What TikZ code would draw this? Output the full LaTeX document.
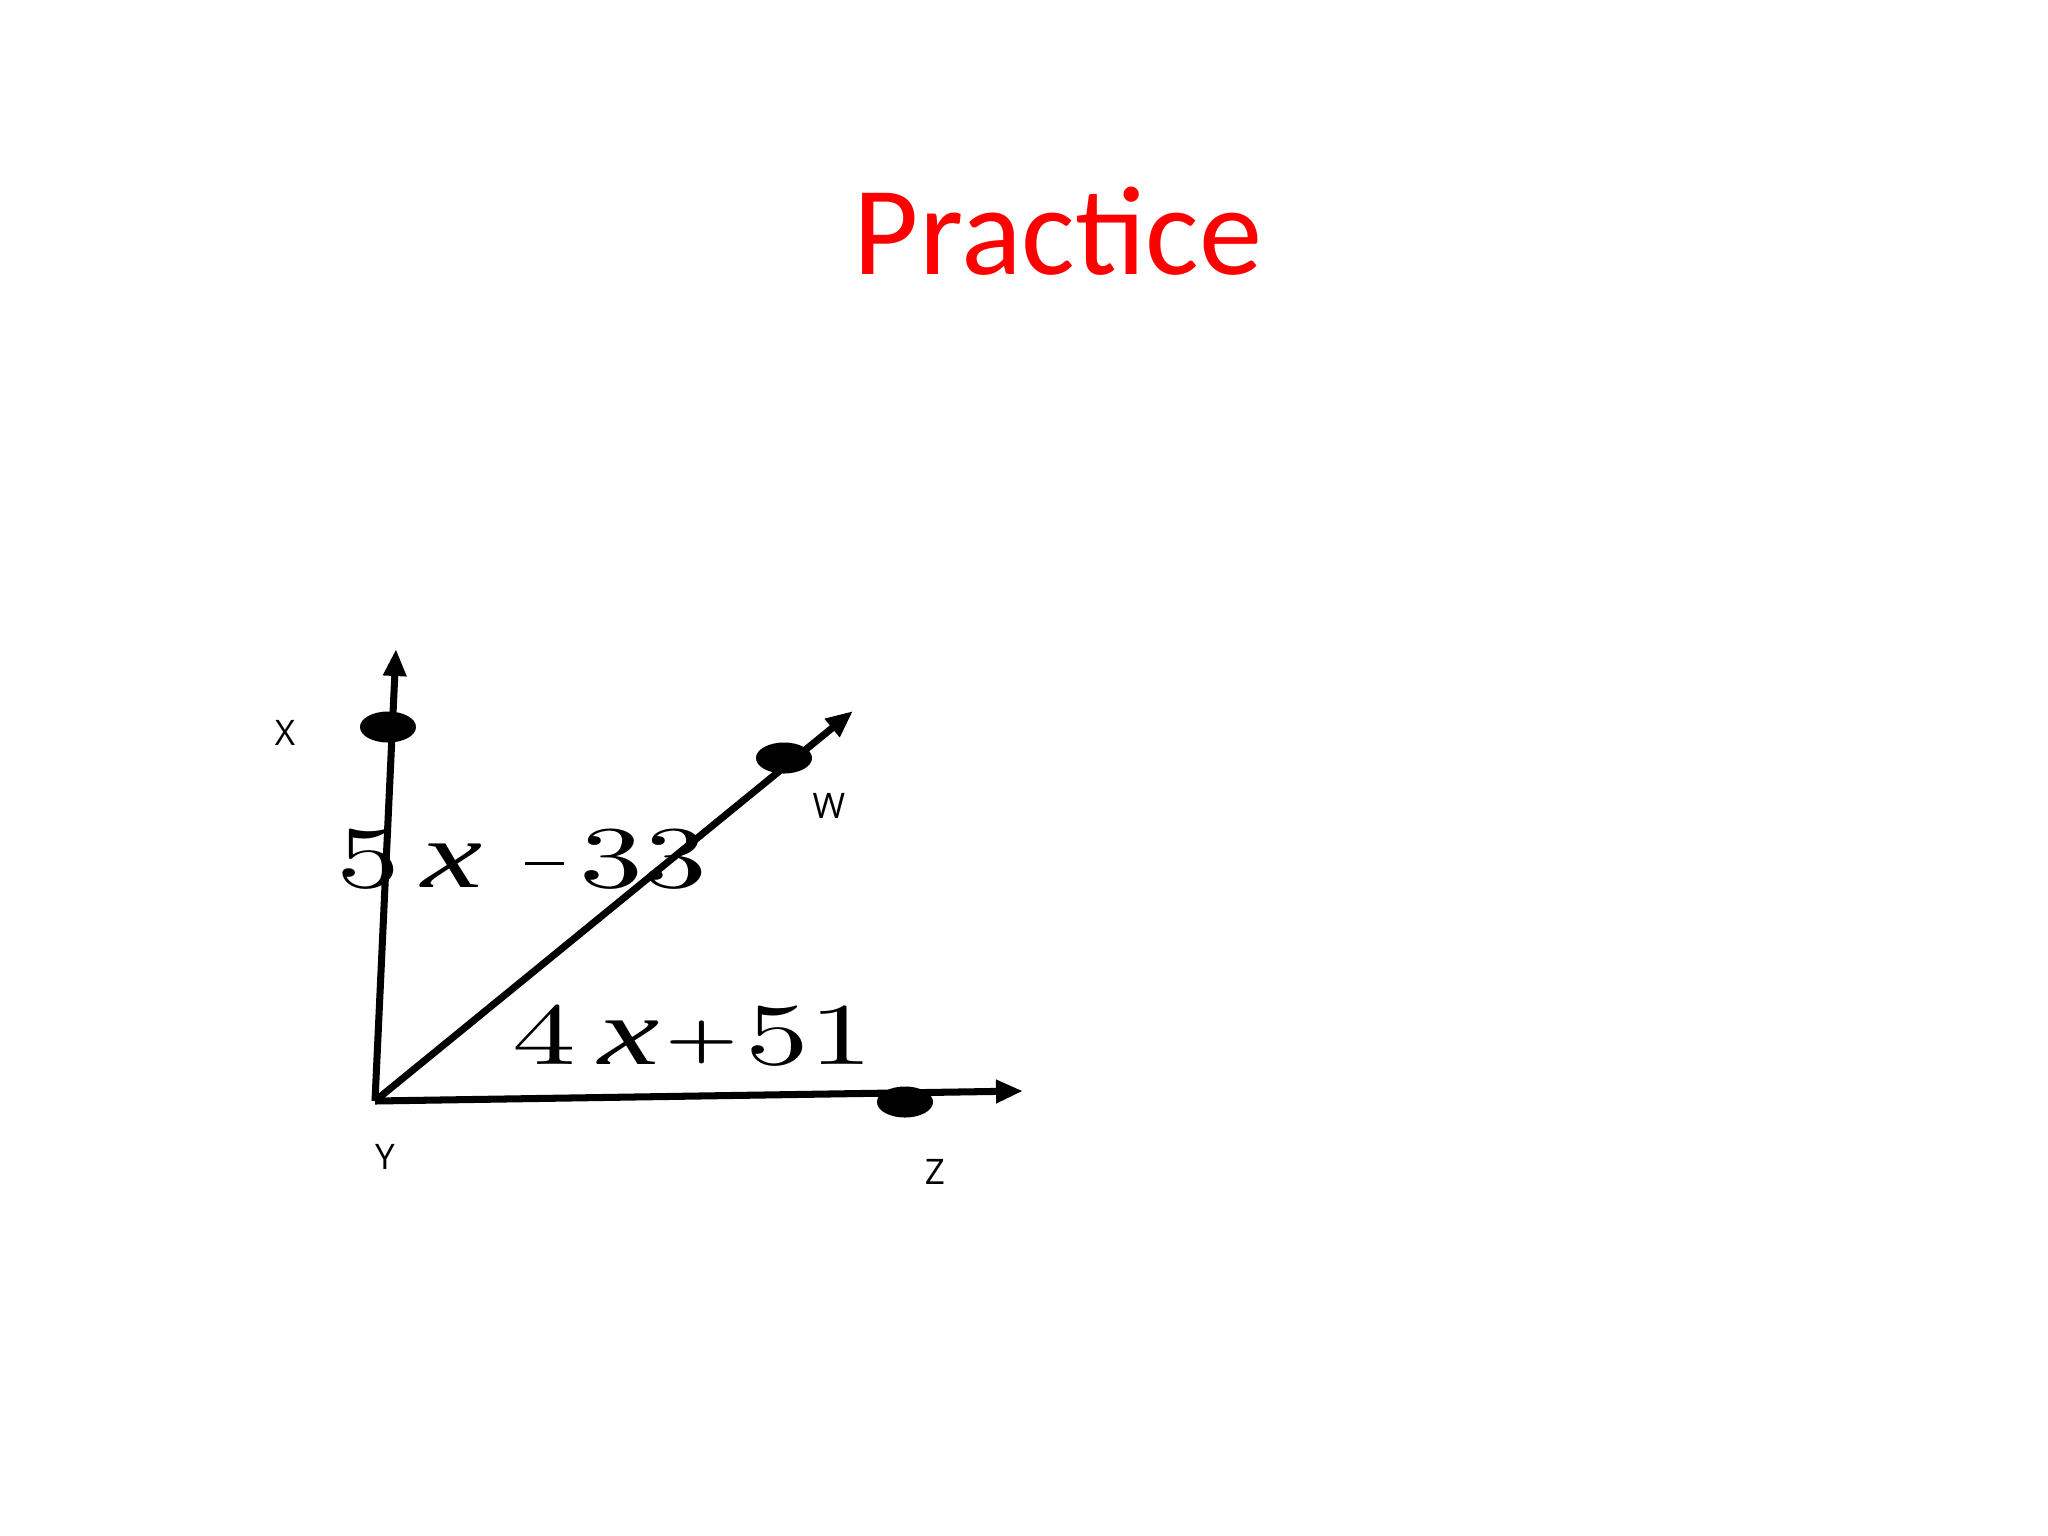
\documentclass[tikz,border=0pt]{standalone}
\usepackage{fontspec}
\newfontfamily\titlefont{Carlito}
\newfontfamily\lblfont{Open Sans}
\newfontfamily\xfont{Liberation Serif}
\newfontfamily\digfont{lmroman10-regular.otf}
\newfontfamily\digbold{lmroman10-bold.otf}
\usetikzlibrary{arrows.meta,shapes.geometric}
\newcommand{\varx}{{\xfont\itshape\fontsize{27}{28}\selectfont x}}
\newcommand{\bplus}{\raisebox{2.2pt}{\digbold\fontsize{16}{18}\selectfont +}}
\begin{document}
\begin{tikzpicture}[x=0.01cm,y=-0.01cm,
  ray/.style={line width=2pt,-{Triangle[length=0.27cm,width=0.22cm]}},
  dot/.style={ellipse,fill=black,minimum width=0.56cm,minimum height=0.31cm,inner sep=0pt},
  ptlabel/.style={font=\lblfont\fontsize{10}{12}\selectfont,inner sep=0pt},
  expr/.style={font=\digfont\fontsize{25}{28}\selectfont,inner sep=0pt,anchor=base west}]
\useasboundingbox (0,0) rectangle (2048,1536);
\node[font=\titlefont\fontsize{36}{40}\selectfont,text=red] (title) at (1058,231) {Practice};
\coordinate (Y) at (375,1101);
\coordinate (Xt) at (396,649);
\coordinate (Wt) at (853,711);
\coordinate (Zt) at (1023,1091);
\draw[ray] (Y) -- (Xt);
\draw[ray] (Y) -- (Wt);
\draw[ray] (Y) -- (Zt);
\node[dot] (X) at (388,727) {};
\node[dot] (W) at (784,758) {};
\node[dot] (Z) at (905,1102) {};
\node[ptlabel] (Xl) at (285,733) {X};
\node[ptlabel] (Wl) at (829,806) {W};
\node[ptlabel] (Yl) at (385,1157) {Y};
\node[ptlabel] (Zl) at (935,1172) {Z};
\node[expr] (e1) at (336,887) {\scalebox{1.45}[1]{5\hspace{4.1pt}\varx\hspace{8.4pt}\rule[6.2pt]{7.6pt}{0.9pt}\hspace{3.1pt}33}};
\node[expr] (e2) at (512,1064) {\scalebox{1.45}[1]{4\hspace{4.3pt}\varx\hspace{1.2pt}\bplus\hspace{1.4pt}51}};
\end{tikzpicture}
\end{document}
